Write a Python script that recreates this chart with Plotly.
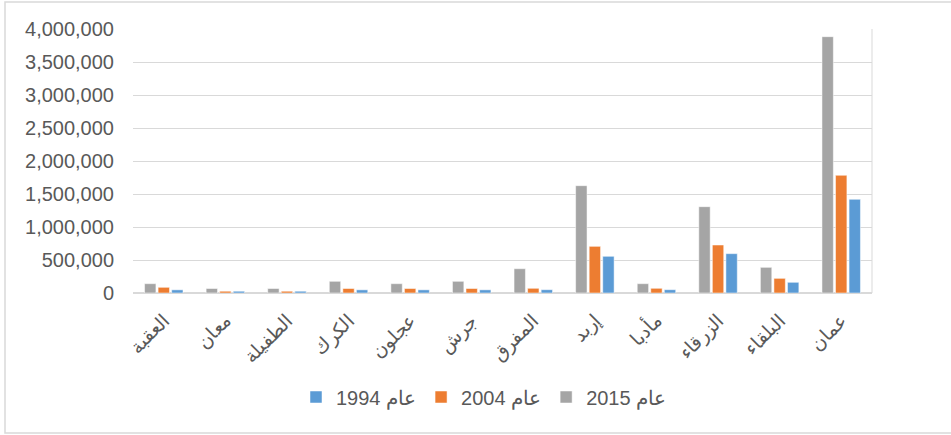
import plotly.graph_objects as go

categories = ["العقبة", "معان", "الطفيلة", "الكرك", "عجلون", "جرش",
              "المفرق", "إربد", "مأدبا", "الزرقاء", "البلقاء", "عمان"]
values_2015 = [141000, 68000, 68000, 177000, 141000, 177000,
               368000, 1626000, 141000, 1308000, 389000, 3884000]
values_2004 = [86000, 27000, 27000, 68000, 68000, 68000,
               71000, 707000, 71000, 727000, 222000, 1783000]
values_1994 = [48000, 27000, 27000, 48000, 48000, 48000,
               50000, 556000, 50000, 596000, 162000, 1419000]
series_names = ["عام 2015", "عام 2004", "عام 1994"]
colors = ["#a5a5a5", "#ed7d31", "#5b9bd5"]

fig = go.Figure()
for name, vals, col in zip(series_names, [values_2015, values_2004, values_1994], colors):
    fig.add_trace(go.Bar(x=categories, y=vals, name=name,
                         marker=dict(color=col, line=dict(color="white", width=0.5))))

W, H = 951, 435
L, R, T, B = 133, 79, 29, 142
pw, ph = W - L - R, H - T - B

def px_x(v):
    return (v - L) / pw

def px_y(v):
    return (H - B - v) / ph

fig.update_layout(
    width=W, height=H,
    margin=dict(l=L, r=R, t=T, b=B, pad=0),
    paper_bgcolor="white", plot_bgcolor="white",
    barmode="group", bargap=0.34, bargroupgap=0.16,
    font=dict(family="Liberation Sans, Arial, sans-serif", color="#595959"),
    legend=dict(orientation="h", traceorder="reversed",
                x=px_x(484), xanchor="center", y=px_y(397), yanchor="middle",
                font=dict(size=20, color="#595959"), itemwidth=30),
    xaxis=dict(showgrid=False, showline=True, linecolor="#d9d9d9", linewidth=1,
               tickangle=-45, tickfont=dict(size=19, color="#595959"),
               ticklabelstandoff=8),
    yaxis=dict(range=[0, 4000000], dtick=500000, tickformat=",",
               showgrid=True, gridcolor="#d9d9d9", gridwidth=1,
               zeroline=True, zerolinecolor="#d9d9d9",
               tickfont=dict(size=20, color="#595959"), ticklabelstandoff=18),
    shapes=[
        dict(type="line", xref="paper", yref="paper", x0=1, x1=1, y0=0, y1=1,
             line=dict(color="#d9d9d9", width=1)),
        dict(type="rect", xref="paper", yref="paper",
             x0=px_x(5), x1=px_x(955), y0=px_y(433), y1=px_y(2),
             line=dict(color="#d9d9d9", width=1.5), fillcolor="rgba(0,0,0,0)",
             layer="below"),
    ],
)

fig.write_html("out.html", config={"displayModeBar": False})

with open("out.html", "r", encoding="utf-8") as f:
    html = f.read()
html = html.replace("<body>", '<body style="margin:0;padding:0;overflow:hidden">', 1)
with open("out.html", "w", encoding="utf-8") as f:
    f.write(html)
